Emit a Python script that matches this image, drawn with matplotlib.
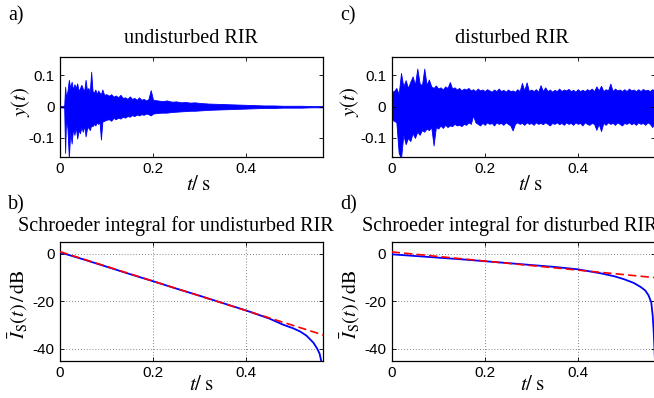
import matplotlib
matplotlib.use('Agg')
import matplotlib.pyplot as plt

plt.rcParams['font.family'] = ['Liberation Sans', 'DejaVu Sans']
plt.rcParams['mathtext.fontset'] = 'stix'

# ---------------- data ----------------
# a) undisturbed RIR: envelope of the waveform (upper / lower peaks)
t_undist = [0.000, 0.009, 0.011, 0.013, 0.016, 0.019, 0.022, 0.025, 0.028, 0.031,
            0.034, 0.037, 0.040, 0.043, 0.046, 0.049, 0.052, 0.055, 0.058, 0.061,
            0.064, 0.067, 0.070, 0.073, 0.076, 0.079, 0.082, 0.085, 0.088, 0.091,
            0.095, 0.100, 0.105, 0.110, 0.115, 0.120, 0.125, 0.130, 0.135, 0.140,
            0.145, 0.150, 0.155, 0.160, 0.165, 0.170, 0.175, 0.180, 0.185, 0.190,
            0.195, 0.200, 0.210, 0.220, 0.230, 0.240, 0.250, 0.260, 0.270, 0.280,
            0.290, 0.300, 0.320, 0.340, 0.360, 0.380, 0.400, 0.420, 0.440, 0.460,
            0.480, 0.500, 0.520, 0.540, 0.566]
up_undist = [0.002, 0.003, 0.064, 0.030, 0.050, 0.086, 0.060, 0.080, 0.055, 0.072,
             0.060, 0.075, 0.050, 0.060, 0.070, 0.058, 0.050, 0.086, 0.052, 0.060,
             0.045, 0.112, 0.050, 0.045, 0.055, 0.040, 0.052, 0.045, 0.040, 0.055,
             0.038, 0.040, 0.035, 0.040, 0.032, 0.036, 0.030, 0.038, 0.028, 0.030,
             0.025, 0.033, 0.025, 0.028, 0.022, 0.030, 0.022, 0.025, 0.020, 0.024,
             0.053, 0.022, 0.020, 0.018, 0.020, 0.016, 0.017, 0.014, 0.015, 0.013,
             0.014, 0.012, 0.010, 0.009, 0.008, 0.007, 0.006, 0.005, 0.004, 0.004,
             0.003, 0.003, 0.003, 0.002, 0.002]
lo_undist = [-0.002, -0.003, -0.148, -0.040, -0.070, -0.165, -0.080, -0.118, -0.070, -0.090,
             -0.065, -0.102, -0.075, -0.085, -0.065, -0.080, -0.060, -0.095, -0.070, -0.065,
             -0.075, -0.060, -0.062, -0.055, -0.060, -0.050, -0.055, -0.050, -0.105, -0.048,
             -0.045, -0.042, -0.040, -0.045, -0.036, -0.040, -0.035, -0.038, -0.032, -0.035,
             -0.030, -0.032, -0.027, -0.030, -0.025, -0.028, -0.024, -0.026, -0.022, -0.024,
             -0.028, -0.022, -0.020, -0.019, -0.019, -0.017, -0.016, -0.015, -0.014, -0.013,
             -0.013, -0.012, -0.010, -0.009, -0.008, -0.007, -0.006, -0.005, -0.004, -0.004,
             -0.003, -0.003, -0.003, -0.002, -0.002]

# c) disturbed RIR: envelope sampled every 5 ms
t_dist = [round(0.005 * i, 3) for i in range(114)]
up_dist = [0.048, 0.050, 0.060, 0.040, 0.108, 0.065, 0.085, 0.060, 0.080, 0.097,
           0.070, 0.122, 0.075, 0.068, 0.122, 0.070, 0.087, 0.065, 0.060, 0.068,
           0.058, 0.062, 0.055, 0.065, 0.060, 0.079, 0.058, 0.062, 0.055, 0.060,
           0.052, 0.058, 0.055, 0.060, 0.052, 0.056, 0.050, 0.058, 0.052, 0.055,
           0.050, 0.056, 0.052, 0.048, 0.055, 0.050, 0.058, 0.050, 0.054, 0.048,
           0.055, 0.050, 0.052, 0.048, 0.056, 0.050, 0.076, 0.052, 0.078, 0.050,
           0.055, 0.050, 0.056, 0.048, 0.069, 0.050, 0.062, 0.050, 0.055, 0.048,
           0.054, 0.050, 0.058, 0.050, 0.055, 0.052, 0.057, 0.050, 0.054, 0.048,
           0.056, 0.050, 0.054, 0.050, 0.056, 0.052, 0.058, 0.050, 0.065, 0.052,
           0.067, 0.050, 0.056, 0.052, 0.074, 0.050, 0.058, 0.052, 0.055, 0.050,
           0.056, 0.050, 0.058, 0.052, 0.055, 0.050, 0.056, 0.050, 0.057, 0.052,
           0.054, 0.050, 0.056, 0.052]
lo_dist = [-0.042, -0.045, -0.050, -0.148, -0.165, -0.090, -0.120, -0.100, -0.110, -0.085,
           -0.100, -0.080, -0.090, -0.075, -0.080, -0.070, -0.075, -0.065, -0.124, -0.065,
           -0.070, -0.060, -0.068, -0.058, -0.065, -0.060, -0.062, -0.055, -0.060, -0.058,
           -0.062, -0.055, -0.058, -0.050, -0.055, -0.028, -0.050, -0.055, -0.060, -0.052,
           -0.058, -0.050, -0.055, -0.052, -0.060, -0.050, -0.055, -0.052, -0.058, -0.050,
           -0.055, -0.060, -0.076, -0.055, -0.050, -0.055, -0.052, -0.058, -0.050, -0.055,
           -0.052, -0.058, -0.050, -0.055, -0.052, -0.056, -0.050, -0.055, -0.060, -0.052,
           -0.055, -0.050, -0.056, -0.052, -0.058, -0.050, -0.055, -0.052, -0.058, -0.050,
           -0.055, -0.052, -0.060, -0.050, -0.055, -0.058, -0.052, -0.055, -0.074, -0.055,
           -0.078, -0.052, -0.058, -0.050, -0.055, -0.052, -0.058, -0.050, -0.055, -0.060,
           -0.052, -0.055, -0.050, -0.056, -0.052, -0.058, -0.050, -0.055, -0.052, -0.058,
           -0.050, -0.055, -0.065, -0.052]

# b) Schroeder integral, undisturbed (dB) and linear fit
t_sch_b = [0.000, 0.050, 0.100, 0.150, 0.200, 0.250, 0.300, 0.350, 0.400, 0.450,
           0.480, 0.500, 0.516, 0.530, 0.545, 0.553, 0.558, 0.562]
sch_b = [0.5, -2.4, -5.5, -8.6, -11.6, -14.7, -17.7, -20.8, -23.9, -27.3,
         -29.9, -31.3, -32.7, -34.5, -37.5, -40.0, -42.0, -45.5]
t_fit_b = [0.000, 0.566]
fit_b = [0.8, -34.2]

# d) Schroeder integral, disturbed (dB) and linear fit
t_sch_d = [0.000, 0.050, 0.100, 0.150, 0.200, 0.250, 0.300, 0.350, 0.400, 0.450,
           0.480, 0.500, 0.520, 0.535, 0.545, 0.552, 0.558, 0.561, 0.563, 0.566]
sch_d = [-0.3, -1.0, -1.7, -2.4, -3.2, -4.0, -4.8, -5.6, -6.6, -8.3,
         -9.6, -10.8, -12.3, -14.0, -15.5, -17.5, -20.5, -26.0, -32.0, -45.0]
t_fit_d = [0.000, 0.566]
fit_d = [0.7, -10.1]

xticks = [0, 0.2, 0.4]
xticklabels = ['0', '0.2', '0.4']
yticks_sig = [-0.1, 0, 0.1]
yticklabels_sig = ['-0.1', '0', '0.1']
yticks_db = [-40, -20, 0]
yticklabels_db = ['-40', '-20', '0']

# ---------------- layout ----------------
W, H = 654, 398
fig = plt.figure(figsize=(W / 100, H / 100), dpi=100)


def ax_at(x0, y0, x1, y1):
    return fig.add_axes([x0 / W, 1 - y1 / H, (x1 - x0) / W, (y1 - y0) / H])


def ftext(x, y, s, **kw):
    fig.text(x / W, 1 - y / H, s, **kw)


axA = ax_at(60, 56.7, 323.3, 156.7)
axC = ax_at(391.7, 56.7, 655, 156.7)
axB = ax_at(60, 241.7, 323.3, 360.7)
axD = ax_at(391.7, 241.7, 655, 360.7)

BLUE = '#0000ff'
RED = '#ff0000'

for ax in (axA, axB, axC, axD):
    ax.set_xlim(0, 0.566)
    ax.set_xticks(xticks)
    ax.set_xticklabels(xticklabels)
    ax.tick_params(direction='in', length=3, width=0.6, top=True, right=True,
                   labelsize=11, pad=4, colors='black')
    for sp in ax.spines.values():
        sp.set_linewidth(0.9)

for ax, t, up, lo in ((axA, t_undist, up_undist, lo_undist),
                      (axC, t_dist, up_dist, lo_dist)):
    ax.fill_between(t, lo, up, color=BLUE, lw=0.6)
    ax.set_ylim(-0.16, 0.16)
    ax.set_yticks(yticks_sig)
    ax.set_yticklabels(yticklabels_sig)

for ax, t, s, tf, f in ((axB, t_sch_b, sch_b, t_fit_b, fit_b),
                        (axD, t_sch_d, sch_d, t_fit_d, fit_d)):
    ax.plot(t, s, color=BLUE, lw=1.3, zorder=3)
    ax.plot(tf, f, color=RED, lw=1.2, dashes=(5, 2.5), zorder=4)
    ax.set_ylim(-45, 5)
    ax.set_yticks(yticks_db)
    ax.set_yticklabels(yticklabels_db)
    ax.grid(True, linestyle=(0, (1, 2.5)), color='0.35', lw=0.6)

# ---------------- texts ----------------
serif = ['Liberation Serif', 'DejaVu Serif']
TS = 14.5
ftext(8, 20.7, 'a)', family=serif, fontsize=TS, va='baseline')
ftext(8, 209, 'b)', family=serif, fontsize=TS, va='baseline')
ftext(340.7, 20.7, 'c)', family=serif, fontsize=TS, va='baseline')
ftext(340.7, 209, 'd)', family=serif, fontsize=TS, va='baseline')

ftext(191.5, 42.7, 'undisturbed RIR', family=serif, fontsize=TS,
      ha='center', va='baseline')
ftext(512.3, 42.7, 'disturbed RIR', family=serif, fontsize=TS,
      ha='center', va='baseline')
ftext(18.3, 231, 'Schroeder integral for undisturbed RIR', family=serif,
      fontsize=TS, ha='left', va='baseline')
ftext(362.3, 231, 'Schroeder integral for disturbed RIR', family=serif,
      fontsize=TS, ha='left', va='baseline')

ylab_sig = r'$y(t)$'
ylab_db = r'$\bar{I}_{\mathrm{S}}(t)\,/\,\mathrm{dB}$'
xlab = r'$t/\;\mathrm{s}$'
ftext(20.8, 102, ylab_sig, fontsize=15, rotation=90, ha='center', va='center')
ftext(349.5, 102, ylab_sig, fontsize=15, rotation=90, ha='center', va='center')
ftext(18.5, 304, ylab_db, fontsize=14.5, rotation=90, ha='center', va='center')
ftext(350.5, 304, ylab_db, fontsize=14.5, rotation=90, ha='center', va='center')
ftext(199, 185, xlab, fontsize=15, ha='center', va='center')
ftext(530.7, 185, xlab, fontsize=15, ha='center', va='center')
ftext(202, 384.5, xlab, fontsize=15, ha='center', va='center')
ftext(533, 384.5, xlab, fontsize=15, ha='center', va='center')

fig.savefig('out.png', dpi=100)
